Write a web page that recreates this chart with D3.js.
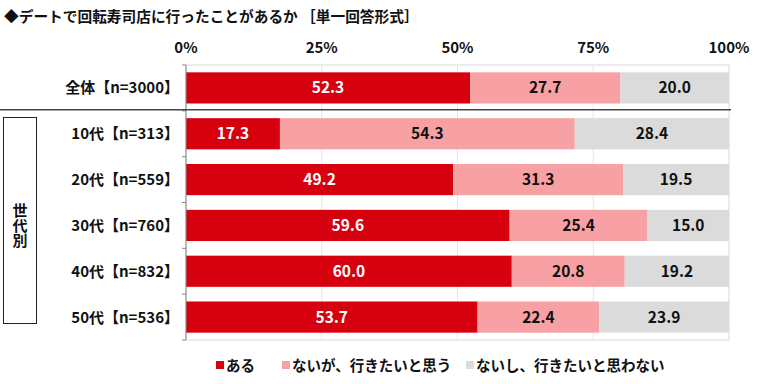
<!DOCTYPE html>
<html>
<head>
<meta charset="utf-8">
<style>
  body { margin: 0; background: #fff; }
  svg text { font-family: "Noto Sans CJK JP", "Noto Sans", sans-serif; font-weight: bold; }
</style>
</head>
<body>
<svg width="760" height="384"></svg>
<script src="https://cdn.jsdelivr.net/npm/d3@7"></script>
<script>
var categories = ["全体【n=3000】", "10代【n=313】", "20代【n=559】", "30代【n=760】", "40代【n=832】", "50代【n=536】"];
var seriesNames = ["ある", "ないが、行きたいと思う", "ないし、行きたいと思わない"];
var aru = [52.3, 17.3, 49.2, 59.6, 60.0, 53.7];
var ikitai = [27.7, 54.3, 31.3, 25.4, 20.8, 22.4];
var omowanai = [20.0, 28.4, 19.5, 15.0, 19.2, 23.9];
var tickValues = [0, 25, 50, 75, 100];
var colors = ["#d7000f", "#f7a1a4", "#dbdbdb"];
var textColors = ["#fff", "#111", "#111"];

var svg = d3.select("svg");
var plotLeft = 186, plotRight = 729, plotTop = 65, plotBottom = 340;

var x = d3.scaleLinear().domain([0, 100]).range([plotLeft, plotRight]);
var y = d3.scaleBand().domain(categories).range([plotTop, plotBottom]).paddingInner(0.32).paddingOuter(0.16);

// title
svg.append("text").attr("x", 4).attr("y", 22).attr("font-size", 14.7).attr("fill", "#111")
  .text("◆デートで回転寿司店に行ったことがあるか ［単一回答形式］");

// frame + grid
svg.append("rect").attr("x", plotLeft).attr("y", plotTop).attr("width", plotRight - plotLeft).attr("height", plotBottom - plotTop)
  .attr("fill", "none").attr("stroke", "#d9d9d9").attr("stroke-width", 1);
svg.append("g").selectAll("line").data(tickValues.slice(1, 4)).enter().append("line")
  .attr("x1", function(d) { return x(d); }).attr("x2", function(d) { return x(d); })
  .attr("y1", plotTop).attr("y2", plotBottom).attr("stroke", "#e6e6e6");

// tick labels on top
svg.append("g").selectAll("text").data(tickValues).enter().append("text")
  .attr("x", function(d) { return x(d); }).attr("y", 53).attr("text-anchor", "middle")
  .attr("font-size", 15).attr("fill", "#111")
  .text(function(d) { return d + "%"; });

// stacked bars
var stackData = categories.map(function(c, i) { return { cat: c, s0: aru[i], s1: ikitai[i], s2: omowanai[i] }; });
var stack = d3.stack().keys(["s0", "s1", "s2"])(stackData);

var layers = svg.append("g").selectAll("g").data(stack).enter().append("g")
  .attr("fill", function(d, i) { return colors[i]; });
layers.selectAll("rect").data(function(d) { return d; }).enter().append("rect")
  .attr("x", function(d) { return x(d[0]); })
  .attr("width", function(d) { return x(d[1]) - x(d[0]); })
  .attr("y", function(d) { return y(d.data.cat); })
  .attr("height", y.bandwidth());

var labels = svg.append("g").selectAll("g").data(stack).enter().append("g");
labels.each(function(layer, li) {
  d3.select(this).selectAll("text").data(layer).enter().append("text")
    .attr("x", function(d) { return (x(d[0]) + x(d[1])) / 2; })
    .attr("y", function(d) { return y(d.data.cat) + y.bandwidth() / 2 + 5.5; })
    .attr("text-anchor", "middle").attr("font-size", 15.5).attr("fill", textColors[li])
    .text(function(d) { return (d[1] - d[0]).toFixed(1); });
});

// left axis line with ticks at band boundaries
svg.append("line").attr("x1", plotLeft).attr("x2", plotLeft).attr("y1", plotTop).attr("y2", plotBottom)
  .attr("stroke", "#888");
svg.append("g").selectAll("line").data(d3.range(categories.length + 1)).enter().append("line")
  .attr("x1", plotLeft - 4).attr("x2", plotLeft)
  .attr("y1", function(i) { return plotTop + i * (plotBottom - plotTop) / categories.length; })
  .attr("y2", function(i) { return plotTop + i * (plotBottom - plotTop) / categories.length; })
  .attr("stroke", "#888");

// category labels
svg.append("g").selectAll("text").data(categories).enter().append("text")
  .attr("x", 179).attr("y", function(d) { return y(d) + y.bandwidth() / 2 + 5.5; })
  .attr("text-anchor", "end").attr("font-size", 15).attr("fill", "#111")
  .text(function(d) { return d; });

// separator between total and generations
var sepY = plotTop + (plotBottom - plotTop) / categories.length - 1;
svg.append("line").attr("x1", 0).attr("x2", 731).attr("y1", sepY).attr("y2", sepY)
  .attr("stroke", "#444").attr("stroke-width", 1.5);

// group box 世代別
svg.append("rect").attr("x", 3.5).attr("y", 117.5).attr("width", 33).attr("height", 206)
  .attr("fill", "none").attr("stroke", "#222").attr("stroke-width", 1);
svg.append("text").attr("x", 20).attr("y", 225)
  .attr("text-anchor", "middle").attr("font-size", 15).attr("fill", "#111")
  .style("writing-mode", "vertical-rl")
  .text("世代別");

// legend
var legendX = [216, 282, 466];
var legend = svg.append("g").selectAll("g").data(seriesNames).enter().append("g")
  .attr("transform", function(d, i) { return "translate(" + legendX[i] + ",366)"; });
legend.append("rect").attr("x", 0).attr("y", -5).attr("width", 8).attr("height", 8)
  .attr("fill", function(d, i) { return colors[i]; });
legend.append("text").attr("x", 10).attr("y", 5).attr("font-size", 14.5).attr("fill", "#111")
  .text(function(d) { return d; });
</script>
</body>
</html>
